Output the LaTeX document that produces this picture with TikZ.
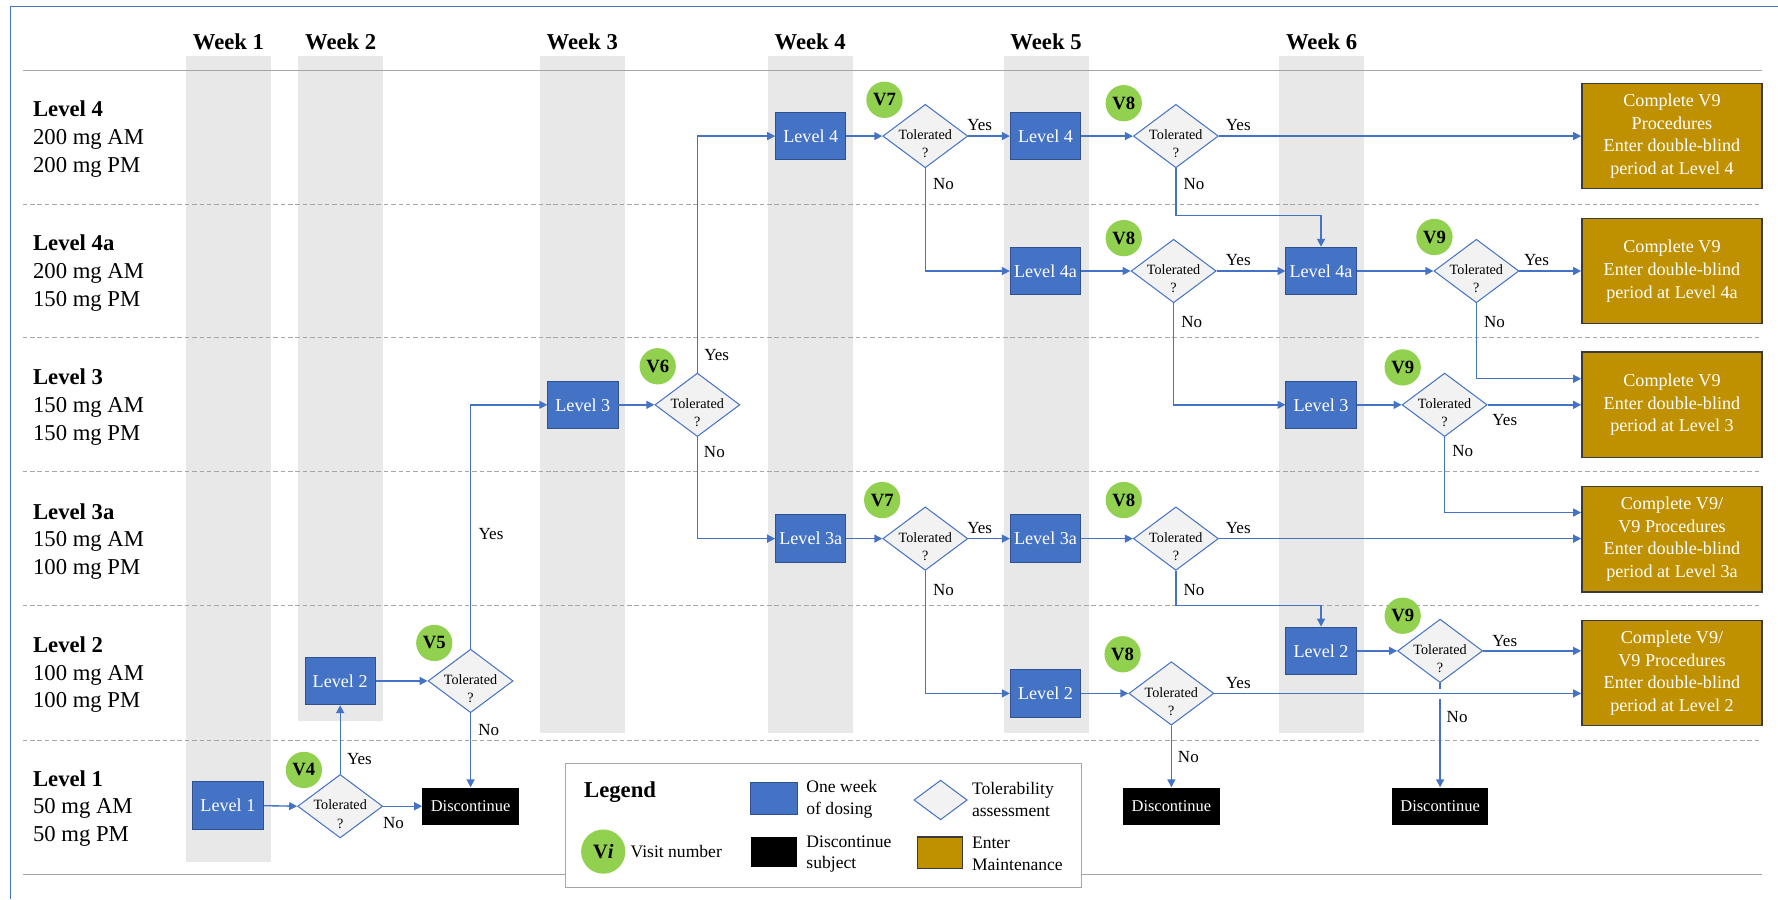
\documentclass[tikz,border=0pt]{standalone}
\usepackage{fontspec}
\setmainfont{Liberation Serif}
\usetikzlibrary{shapes.geometric,arrows.meta}
\definecolor{lvlblue}{HTML}{4472C4}
\definecolor{lvledge}{HTML}{2F528F}
\definecolor{tolfill}{HTML}{F2F2F2}
\definecolor{visgreen}{HTML}{92D050}
\definecolor{mgold}{HTML}{BF9000}
\definecolor{mgoldedge}{HTML}{3A3A3A}
\definecolor{colgray}{HTML}{E8E8E8}
\definecolor{rulegray}{HTML}{A6A6A6}

\begin{document}
\begin{tikzpicture}[x=1pt,y=-1pt,
  lvl/.style={draw=lvledge, fill=lvlblue, text=white, minimum width=62, minimum height=42, inner sep=0, line width=0.8, font=\fontsize{16}{18}\selectfont},
  tolbox/.style={diamond, draw=lvlblue, fill=tolfill, minimum width=75, minimum height=56, inner sep=0, line width=0.9},
  tol/.style={tolbox, label={[tolab]center:Tolerated\\?}},
  tolab/.style={align=center, yshift=-7pt, inner sep=0, font=\fontsize{12.5}{16}\selectfont},
  vis/.style={circle, fill=visgreen, minimum size=32, inner sep=0, font=\bfseries\fontsize{16.5}{18}\selectfont},
  stop/.style={fill=black, text=white, minimum width=85, minimum height=33, inner sep=0, font=\fontsize{14.5}{16}\selectfont},
  maint/.style={draw=mgoldedge, fill=mgold, text=white, minimum width=159, minimum height=93, inner sep=0, line width=1.2, align=center, font=\fontsize{16}{20}\selectfont},
  lab/.style={inner sep=0, font=\fontsize{15}{17}\selectfont},
  flow/.style={draw=lvlblue, line width=1.2, -{Triangle[length=7pt,width=7pt]}},
  rowlab/.style={anchor=west, align=left, inner sep=0, font=\fontsize{20}{24.5}\selectfont},
  weeklab/.style={inner sep=0, font=\bfseries\fontsize{20}{24}\selectfont},
  keytext/.style={anchor=west, align=left, inner sep=0, font=\fontsize{15.5}{19}\selectfont}]
\useasboundingbox (0,0) rectangle (1568,793);

\draw[lvlblue, line width=1] (9,5.5) -- (1568,5.5);
\draw[lvlblue, line width=1] (9,5.5) -- (9,793);

\fill[colgray] (164,49) rectangle (239,760);
\fill[colgray] (263,49) rectangle (338,636);
\fill[colgray] (476,49) rectangle (551,646);
\fill[colgray] (677,49) rectangle (752,646);
\fill[colgray] (885,49) rectangle (960,646);
\fill[colgray] (1128,49) rectangle (1203,646);

\draw[rulegray, line width=1.3] (20,62) -- (1554,62);
\draw[rulegray, line width=1.3] (20,771) -- (1554,771);
\draw[rulegray, line width=1, dash pattern=on 4pt off 2.5pt] (20,180) -- (1554,180);
\draw[rulegray, line width=1, dash pattern=on 4pt off 2.5pt] (20,297.5) -- (1554,297.5);
\draw[rulegray, line width=1, dash pattern=on 4pt off 2.5pt] (20,416) -- (1554,416);
\draw[rulegray, line width=1, dash pattern=on 4pt off 2.5pt] (20,534) -- (1554,534);
\draw[rulegray, line width=1, dash pattern=on 4pt off 2.5pt] (20,653) -- (1554,653);

\node[weeklab] at (201.5,37) (w1) {Week 1};
\node[weeklab] at (300.5,37) (w2) {Week 2};
\node[weeklab] at (513.5,37) (w3) {Week 3};
\node[weeklab] at (714.5,37) (w4) {Week 4};
\node[weeklab] at (922.5,37) (w5) {Week 5};
\node[weeklab] at (1165.5,37) (w6) {Week 6};

\node[rowlab] at (29,122.5) (r4) {\textbf{Level 4}\\200 mg AM\\200 mg PM};
\node[rowlab] at (29,241) (r4a) {\textbf{Level 4a}\\200 mg AM\\150 mg PM};
\node[rowlab] at (29,359) (r3) {\textbf{Level 3}\\150 mg AM\\150 mg PM};
\node[rowlab] at (29,477.5) (r3a) {\textbf{Level 3a}\\150 mg AM\\100 mg PM};
\node[rowlab] at (29,595) (r2) {\textbf{Level 2}\\100 mg AM\\100 mg PM};
\node[rowlab] at (29,713) (r1) {\textbf{Level 1}\\50 mg AM\\50 mg PM};

\node[lvl] at (201,710.5) (b1) {Level 1};
\node[lvl] at (300,600.5) (b2) {Level 2};
\node[lvl] at (514,357) (b3) {Level 3};
\node[lvl] at (715,120) (b4a) {Level 4};
\node[lvl] at (715,475) (b4b) {Level 3a};
\node[lvl] at (922,120) (b5a) {Level 4};
\node[lvl] at (922,239) (b5b) {Level 4a};
\node[lvl] at (922,475) (b5c) {Level 3a};
\node[lvl] at (922,611.5) (b5d) {Level 2};
\node[lvl] at (1165,239) (b6a) {Level 4a};
\node[lvl] at (1165,357) (b6b) {Level 3};
\node[lvl] at (1165,574) (b6c) {Level 2};

\node[tol] at (300,711) (t4) {};
\node[tol] at (415,600.5) (t5) {};
\node[tol] at (615,357) (t6) {};
\node[tol] at (816,120) (t7a) {};
\node[tol] at (816,475) (t7b) {};
\node[tol] at (1037,120) (t8a) {};
\node[tol] at (1035,239) (t8b) {};
\node[tol] at (1037,475) (t8c) {};
\node[tol] at (1033,611.5) (t8d) {};
\node[tol] at (1302,239) (t9a) {};
\node[tol] at (1274,357) (t9b) {};
\node[tol] at (1270,574) (t9c) {};

\node[vis] at (268,679) (v4) {V4};
\node[vis] at (383,567) (v5) {V5};
\node[vis] at (580,323) (v6) {V6};
\node[vis] at (780,88) (v7a) {V7};
\node[vis] at (778,441) (v7b) {V7};
\node[vis] at (991,91) (v8a) {V8};
\node[vis] at (991,210) (v8b) {V8};
\node[vis] at (991,441) (v8c) {V8};
\node[vis] at (990,577) (v8d) {V8};
\node[vis] at (1265,209) (v9a) {V9};
\node[vis] at (1237,324) (v9b) {V9};
\node[vis] at (1237,543) (v9c) {V9};

\node[stop] at (415,711) (s1) {Discontinue};
\node[stop] at (1033,711) (s2) {Discontinue};
\node[stop] at (1270,711) (s3) {Discontinue};

\node[maint] at (1474.5,120) (m4) {Complete V9\\Procedures\\Enter double-blind\\period at Level 4};
\node[maint] at (1474.5,239) (m4a) {Complete V9\\Enter double-blind\\period at Level 4a};
\node[maint] at (1474.5,357) (m3) {Complete V9\\Enter double-blind\\period at Level 3};
\node[maint] at (1474.5,475.5) (m3a) {Complete V9/\\V9 Procedures\\Enter double-blind\\period at Level 3a};
\node[maint] at (1474.5,593.5) (m2) {Complete V9/\\V9 Procedures\\Enter double-blind\\period at Level 2};

\node[draw=rulegray, fill=white, line width=1, minimum width=455, minimum height=110, inner sep=0] at (726.5,728) (key) {};
\node[anchor=west, inner sep=0, font=\bfseries\fontsize{20}{24}\selectfont] at (515,699) (keyt) {Legend};
\node[lvl, minimum width=41, minimum height=28] at (682.5,704) (kb) {};
\node[keytext] at (711,705) (kbt) {One week\\of dosing};
\node[tolbox, minimum width=47, minimum height=35] at (829.5,705.5) (kd) {};
\node[keytext] at (857,705) (kdt) {Tolerability\\assessment};
\node[vis, minimum size=39, font=\bfseries\fontsize{18}{20}\selectfont] at (532,751) (kv) {V\textit{i}};
\node[keytext] at (556,751) (kvt) {Visit number};
\node[fill=black, minimum width=41, minimum height=27, inner sep=0] at (682.5,751.5) (ks) {};
\node[keytext] at (711,753) (kst) {Discontinue\\subject};
\node[maint, minimum width=40, minimum height=28] at (829,752) (km) {};
\node[keytext] at (857,753) (kmt) {Enter\\Maintenance};

\coordinate (k8a) at (1037,190);
\coordinate (k8c) at (1037,534);

\draw[flow] (b1.east) to (t4.west);
\draw[flow] (t4.north) to (t4.north |- b2.south);
\draw[flow] (t4.east) to (s1.west);
\draw[flow] (b2.east) to (t5.west);
\draw[flow] (t5.south) to (s1.north);
\draw[flow] (t5.north) |- (b3.west);
\draw[flow] (b3.east) to (t6.west);
\draw[flow] (t6.north) |- (b4a.west);
\draw[flow] (t6.south) |- (b4b.west);
\draw[flow] (b4a.east) to (t7a.west);
\draw[flow] (t7a.east) to (b5a.west);
\draw[flow] (t7a.south) |- (b5b.west);
\draw[flow] (b5a.east) to (t8a.west);
\draw[flow] (t8a.east) to (m4.west);
\draw[flow] (t8a.south) -- (k8a) -| (b6a.north);
\draw[flow] (b5b.east) to (t8b.west);
\draw[flow] (t8b.east) to (b6a.west);
\draw[flow] (t8b.south) |- (b6b.west);
\draw[flow] (b6a.east) to (t9a.west);
\draw[flow] (t9a.east) to (m4a.west);
\draw[flow] (t9a.south) |- ([yshift=23pt]m3.west);
\draw[flow] (b6b.east) to (t9b.west);
\draw[flow] (t9b.east) to (m3.west);
\draw[flow] (t9b.south) |- ([yshift=23.5pt]m3a.west);
\draw[flow] (b4b.east) to (t7b.west);
\draw[flow] (t7b.east) to (b5c.west);
\draw[flow] (t7b.south) |- (b5d.west);
\draw[flow] (b5c.east) to (t8c.west);
\draw[flow] (t8c.east) to (t8c.east -| m3a.west);
\draw[flow] (t8c.south) -- (k8c) -| (b6c.north);
\draw[flow] (b5d.east) to (t8d.west);
\draw[flow] (t8d.east) to (t8d.east -| m2.west);
\draw[flow] (t8d.south) to (s2.north);
\draw[flow] (b6c.east) to (t9c.west);
\draw[flow] (t9c.east) to (t9c.east -| m2.west);
\draw[flow] (t9c.south) -- ([yshift=-5pt]t9c.south) ([yshift=-14pt]t9c.south) -- (s3.north);

\node[lab] at (317,669) (y4) {Yes};
\node[lab] at (347,726) (n4) {No};
\node[lab] at (431,644) (n5) {No};
\node[lab] at (433,471) (y5) {Yes};
\node[lab] at (632,313) (y6) {Yes};
\node[lab] at (630,399) (n6) {No};
\node[lab] at (864,110) (y7a) {Yes};
\node[lab] at (832,162) (n7a) {No};
\node[lab] at (864,466) (y7b) {Yes};
\node[lab] at (832,520) (n7b) {No};
\node[lab] at (1092,110) (y8a) {Yes};
\node[lab] at (1053,162) (n8a) {No};
\node[lab] at (1092,229) (y8b) {Yes};
\node[lab] at (1051,284) (n8b) {No};
\node[lab] at (1092,466) (y8c) {Yes};
\node[lab] at (1053,520) (n8c) {No};
\node[lab] at (1092,602) (y8d) {Yes};
\node[lab] at (1048,668) (n8d) {No};
\node[lab] at (1355,229) (y9a) {Yes};
\node[lab] at (1318,284) (n9a) {No};
\node[lab] at (1327,370) (y9b) {Yes};
\node[lab] at (1290,398) (n9b) {No};
\node[lab] at (1327,565) (y9c) {Yes};
\node[lab] at (1285,632) (n9c) {No};
\end{tikzpicture}
\end{document}
